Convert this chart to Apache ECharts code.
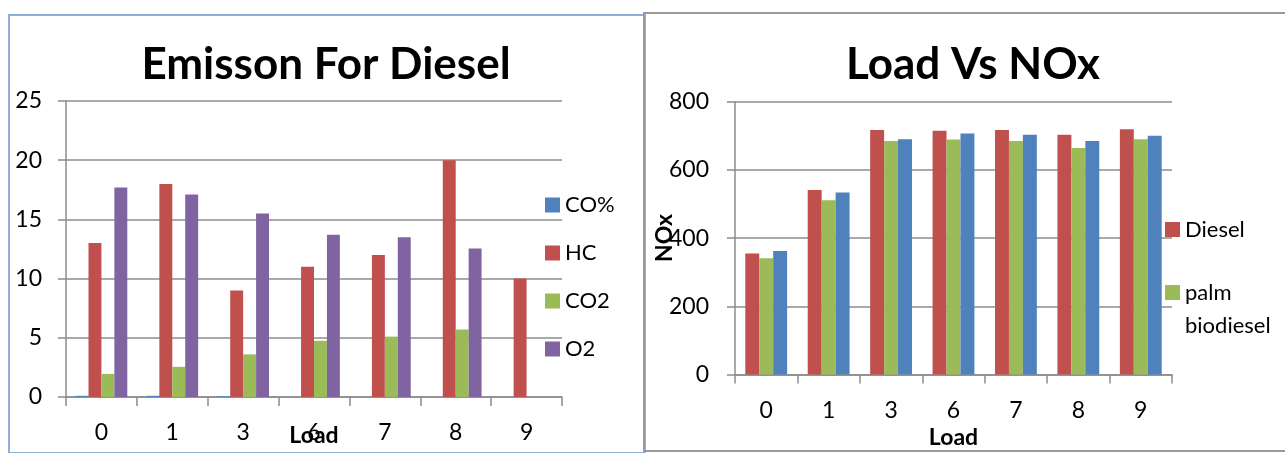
<!DOCTYPE html>
<html><head><meta charset="utf-8">
<script src="https://cdn.jsdelivr.net/npm/echarts@6/dist/echarts.min.js"></script>
<style>
html,body{margin:0;padding:0;background:#fff;width:1285px;height:453px;overflow:hidden;}
#f1{position:absolute;left:8px;top:14px;width:634px;height:436px;border:2px solid #8fb0d8;box-sizing:content-box;}
#f2{position:absolute;left:643px;top:12px;width:660px;height:436px;border:2px solid #9a9a9a;}
#c{position:absolute;left:0;top:0;width:1285px;height:453px;}
</style></head>
<body>
<div id="f1"></div><div id="f2"></div>
<div id="c"></div>
<script>
// Left chart: Emisson For Diesel
const loads = ['0','1','3','6','7','8','9'];
const coPct = [0.1, 0.1, 0.05, 0, 0, 0, 0];
const hc    = [13, 18, 9, 11, 12, 20, 10];
const co2   = [1.95, 2.55, 3.6, 4.75, 5.1, 5.7, 0];
const o2    = [17.7, 17.1, 15.5, 13.7, 13.5, 12.55, 0];
const leftTicks = [0, 5, 10, 15, 20, 25];

// Right chart: Load Vs NOx
const noxDiesel = [355, 541, 717, 715, 717, 703, 719];
const noxPalm   = [341, 511, 685, 689, 685, 664, 690];
const noxBlend  = [362, 534, 690, 707, 703, 685, 700];
const rightTicks = [0, 200, 400, 600, 800];

const FONT = 'Lato';
const C_BLUE = '#4F81BD', C_RED = '#C0504D', C_GREEN = '#9BBB59', C_PURPLE = '#8064A2';
const gridLine = '#8c8c8c';

const chart = echarts.init(document.getElementById('c'), null, {renderer:'canvas'});
function xAxisCfg(gridIndex, margin, nameGap){
  return {
    type:'category', gridIndex, data: loads, boundaryGap:true,
    axisLine:{show:true, lineStyle:{color:gridLine, width:1.5}},
    axisTick:{show:true, inside:false, length:9, alignWithLabel:false, lineStyle:{color:gridLine, width:1.5}},
    axisLabel:{color:'#000', fontFamily:FONT, fontSize:23, margin},
    name:'Load', nameLocation:'middle', nameGap, nameMoveOverlap:false,
    nameTextStyle:{color:'#000', fontFamily:FONT, fontSize:23, fontWeight:'bold'}
  };
}
function yAxisCfg(gridIndex, max, interval, margin, extra){
  return Object.assign({
    type:'value', gridIndex, min:0, max, interval,
    axisLine:{show:true, lineStyle:{color:gridLine, width:1.5}},
    axisTick:{show:true, inside:false, length:8, lineStyle:{color:gridLine, width:1.5}},
    splitLine:{show:true, lineStyle:{color:gridLine, width:1.5}},
    axisLabel:{color:'#000', fontFamily:FONT, fontSize:23, margin}
  }, extra||{});
}
const option = {
  animation:false,
  textStyle:{fontFamily:FONT},
  title:[
    {text:'Emisson For Diesel', left:326, top:43, textAlign:'center', padding:0,
     textStyle:{fontFamily:FONT, fontSize:44, fontWeight:'bold', color:'#000'}},
    {text:'Load Vs NOx', left:973, top:43, textAlign:'center', padding:0,
     textStyle:{fontFamily:FONT, fontSize:44, fontWeight:'bold', color:'#000'}}
  ],
  legend:[
    {orient:'vertical', left:545, top:194, padding:0, itemWidth:15, itemHeight:15, itemGap:26,
     data:['CO%','HC','CO2','O2'], icon:'rect',
     textStyle:{fontFamily:FONT, fontSize:22, lineHeight:22, color:'#000'}},
    {orient:'vertical', left:1165, top:213, padding:0, itemWidth:15, itemHeight:15, itemGap:-3,
     data:['Diesel','palm biodiesel'], icon:'rect',
     formatter: n => n === 'palm biodiesel' ? ' \npalm\nbiodiesel' : n,
     textStyle:{fontFamily:FONT, fontSize:22, lineHeight:33, color:'#000'}}
  ],
  grid:[
    {left:66, top:101, width:496, height:296, outerBoundsMode:'none', containLabel:false},
    {left:735, top:101.7, width:437, height:272.8, outerBoundsMode:'none', containLabel:false}
  ],
  xAxis:[ xAxisCfg(0, 24, 27), xAxisCfg(1, 25, 52) ],
  yAxis:[
    yAxisCfg(0, leftTicks[leftTicks.length-1], leftTicks[1]-leftTicks[0], 24),
    yAxisCfg(1, rightTicks[rightTicks.length-1], rightTicks[1]-rightTicks[0], 26,
      {name:'NOx', nameLocation:'middle', nameGap:59, nameRotate:90, nameMoveOverlap:false,
       nameTextStyle:{color:'#000', fontFamily:FONT, fontSize:23, fontWeight:'bold'}})
  ],
  series:[
    {name:'CO%', type:'bar', xAxisIndex:0, yAxisIndex:0, data:coPct, itemStyle:{color:C_BLUE}, barGap:'0%', barCategoryGap:'27%'},
    {name:'HC', type:'bar', xAxisIndex:0, yAxisIndex:0, data:hc, itemStyle:{color:C_RED}, barGap:'0%', barCategoryGap:'27%'},
    {name:'CO2', type:'bar', xAxisIndex:0, yAxisIndex:0, data:co2, itemStyle:{color:C_GREEN}, barGap:'0%', barCategoryGap:'27%'},
    {name:'O2', type:'bar', xAxisIndex:0, yAxisIndex:0, data:o2, itemStyle:{color:C_PURPLE}, barGap:'0%', barCategoryGap:'27%'},
    {name:'Diesel', type:'bar', xAxisIndex:1, yAxisIndex:1, data:noxDiesel, itemStyle:{color:C_RED}, barGap:'0%', barCategoryGap:'33%'},
    {name:'palm biodiesel', type:'bar', xAxisIndex:1, yAxisIndex:1, data:noxPalm, itemStyle:{color:C_GREEN}, barGap:'0%', barCategoryGap:'33%'},
    {name:'Series3', type:'bar', xAxisIndex:1, yAxisIndex:1, data:noxBlend, itemStyle:{color:C_BLUE}, barGap:'0%', barCategoryGap:'33%'}
  ]
};
chart.setOption(option);
</script>
</body></html>
